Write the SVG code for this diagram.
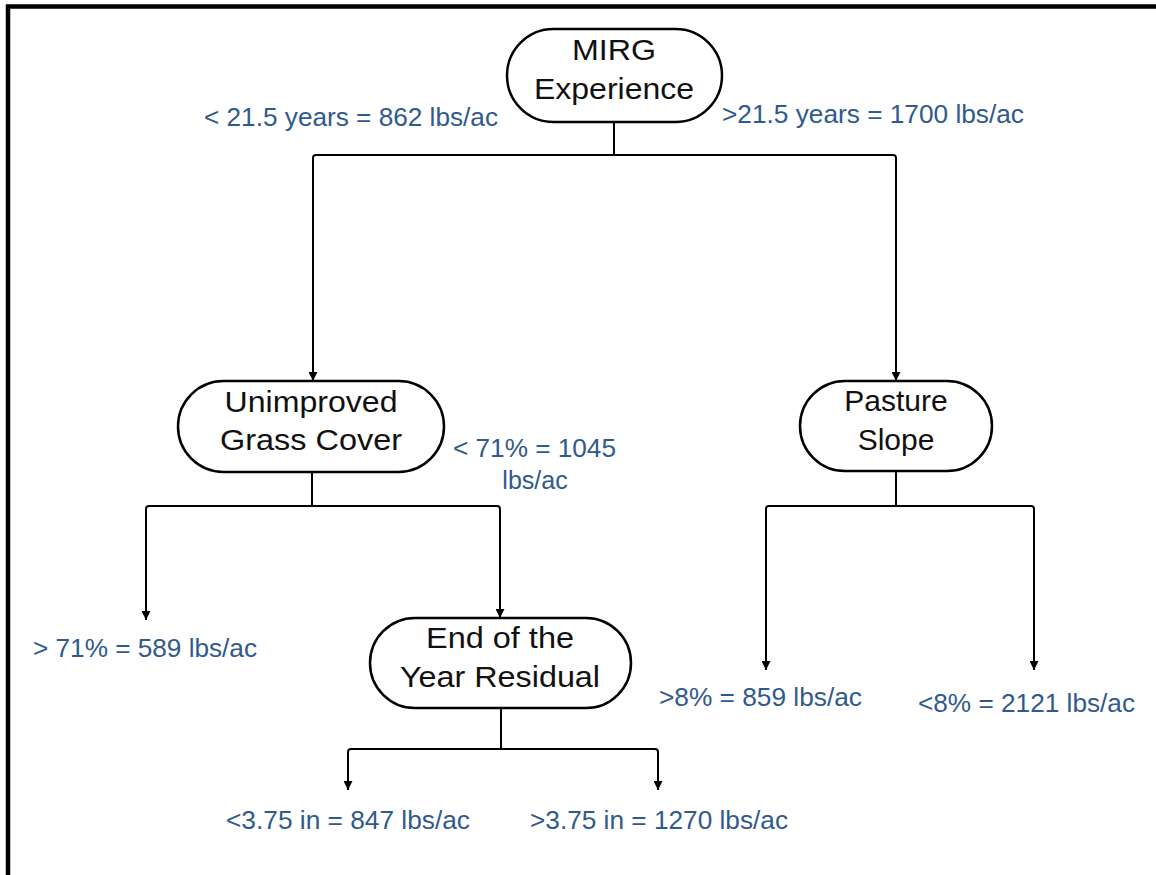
<svg xmlns="http://www.w3.org/2000/svg" width="1156" height="875" viewBox="0 0 1156 875">
<defs>
<marker id="ah" viewBox="0 0 10 10" refX="10" refY="5" markerWidth="10" markerHeight="9" markerUnits="userSpaceOnUse" orient="auto">
<path d="M0,0 L10,5 L0,10 Z" fill="#000"/>
</marker>
</defs>
<style>
.node rect{fill:#fff;stroke:#000;stroke-width:2.5}
.node text{font-family:"Liberation Sans",Arial,sans-serif;font-size:30px;fill:#111;text-anchor:middle}
.lbl{font-family:"Liberation Sans",Arial,sans-serif;font-size:25px;fill:#2f5a8c}
.conn path{fill:none;stroke:#000;stroke-width:2;stroke-linejoin:round}
.arr{marker-end:url(#ah)}
</style>
<rect x="0" y="0" width="1156" height="875" fill="#fff"/>
<path d="M8,900 L8,6.5 L1160,6.5" fill="none" stroke="#000" stroke-width="4.5"/>

<g class="conn" id="connectors">
<path d="M614,122 L614,155"/>
<path class="arr" d="M614,155 L316,155 Q313,155 313,158 L313,381"/>
<path class="arr" d="M614,155 L893,155 Q896,155 896,158 L896,381"/>
<path d="M312,472 L312,506"/>
<path class="arr" d="M312,506 L149,506 Q146,506 146,509 L146,620"/>
<path class="arr" d="M312,506 L497,506 Q500,506 500,509 L500,618"/>
<path d="M896,471 L896,506"/>
<path class="arr" d="M896,506 L769,506 Q766,506 766,509 L766,670"/>
<path class="arr" d="M896,506 L1031,506 Q1034,506 1034,509 L1034,670"/>
<path d="M501,708 L501,749"/>
<path class="arr" d="M501,749 L351,749 Q348,749 348,752 L348,790"/>
<path class="arr" d="M501,749 L655,749 Q658,749 658,752 L658,790"/>
</g>

<g class="node" id="mirg">
<rect x="507" y="29" width="215" height="93" rx="46.5"/>
<text x="614" y="60" textLength="84" lengthAdjust="spacingAndGlyphs">MIRG</text>
<text x="614" y="99" textLength="160" lengthAdjust="spacingAndGlyphs">Experience</text>
</g>
<g class="node" id="grass">
<rect x="178" y="381" width="266" height="91" rx="45.5"/>
<text x="311" y="412" textLength="173" lengthAdjust="spacingAndGlyphs">Unimproved</text>
<text x="311" y="450" textLength="182" lengthAdjust="spacingAndGlyphs">Grass Cover</text>
</g>
<g class="node" id="slope">
<rect x="800" y="381" width="192" height="90" rx="45"/>
<text x="896" y="411">Pasture</text>
<text x="896" y="450">Slope</text>
</g>
<g class="node" id="residual">
<rect x="370" y="618" width="261" height="90" rx="45"/>
<text x="500" y="648" textLength="148" lengthAdjust="spacingAndGlyphs">End of the</text>
<text x="500" y="687" textLength="200" lengthAdjust="spacingAndGlyphs">Year Residual</text>
</g>

<g id="labels">
<text class="lbl" x="204" y="126" textLength="294" lengthAdjust="spacingAndGlyphs">&lt; 21.5 years = 862 lbs/ac</text>
<text class="lbl" x="722" y="123" textLength="302" lengthAdjust="spacingAndGlyphs">&gt;21.5 years = 1700 lbs/ac</text>
<text class="lbl" x="453" y="457" textLength="163" lengthAdjust="spacingAndGlyphs">&lt; 71% = 1045</text>
<text class="lbl" x="535" y="489" text-anchor="middle">lbs/ac</text>
<text class="lbl" x="33" y="657" textLength="224" lengthAdjust="spacingAndGlyphs">&gt; 71% = 589 lbs/ac</text>
<text class="lbl" x="659" y="706" textLength="203" lengthAdjust="spacingAndGlyphs">&gt;8% = 859 lbs/ac</text>
<text class="lbl" x="918" y="712" textLength="217" lengthAdjust="spacingAndGlyphs">&lt;8% = 2121 lbs/ac</text>
<text class="lbl" x="226" y="829" textLength="244" lengthAdjust="spacingAndGlyphs">&lt;3.75 in = 847 lbs/ac</text>
<text class="lbl" x="530" y="829" textLength="258" lengthAdjust="spacingAndGlyphs">&gt;3.75 in = 1270 lbs/ac</text>
</g>
</svg>
